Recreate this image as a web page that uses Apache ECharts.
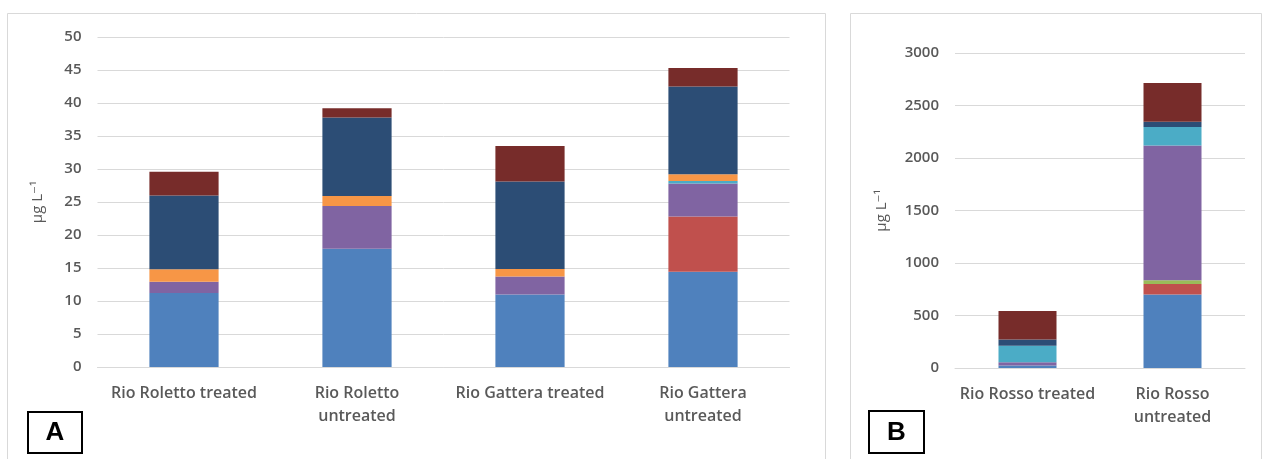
<!DOCTYPE html>
<html>
<head>
<meta charset="utf-8">
<style>
  html, body { margin: 0; padding: 0; background: #ffffff; }
  #chart { width: 1264px; height: 459px; }
</style>
<script src="https://cdn.jsdelivr.net/npm/echarts@6/dist/echarts.min.js"></script>
</head>
<body>
<div id="chart"></div>
<script>
// Panel A: the two streams of the Rio Roletto / Rio Gattera sites
const categoriesA = ['Rio Roletto treated', 'Rio Roletto untreated', 'Rio Gattera treated', 'Rio Gattera untreated'];
// Panel B: Rio Rosso
const categoriesB = ['Rio Rosso treated', 'Rio Rosso untreated'];

// Stacked components, bottom to top (µg L-1)
const layer1A = [11.2, 17.9, 11.0, 14.45];
const layer2A = [0, 0, 0, 8.35];
const layer3A = [0, 0, 0, 0];
const layer4A = [1.7, 6.5, 2.7, 5.0];
const layer5A = [0, 0, 0, 0.4];
const layer6A = [1.9, 1.5, 1.15, 1.0];
const layer7A = [11.2, 11.9, 13.25, 13.3];
const layer8A = [3.6, 1.4, 5.4, 2.8];

const layer1B = [25, 700];
const layer2B = [0, 100];
const layer3B = [0, 35];
const layer4B = [30, 1285];
const layer5B = [157, 175];
const layer6B = [0, 0];
const layer7B = [60, 50];
const layer8B = [270, 370];

const ticksA = { min: 0, max: 50, interval: 5 };
const ticksB = { min: 0, max: 3000, interval: 500 };

const axisTitle = 'μg L⁻¹';

const palette = ['#4f81bd', '#c0504d', '#9bbb59', '#8064a2', '#4bacc6', '#f79646', '#2c4d75', '#772c2a'];
const layersA = [layer1A, layer2A, layer3A, layer4A, layer5A, layer6A, layer7A, layer8A];
const layersB = [layer1B, layer2B, layer3B, layer4B, layer5B, layer6B, layer7B, layer8B];

const textColor = '#595959';
const gridColor = '#d9d9d9';
const fontFamily = '"Open Sans", "DejaVu Sans", sans-serif';

function yAxis(gridIndex, ticks, gap) {
  return {
    type: 'value', gridIndex: gridIndex,
    min: ticks.min, max: ticks.max, interval: ticks.interval,
    name: axisTitle, nameLocation: 'middle', nameGap: gap, nameRotate: 90,
    nameTextStyle: { color: textColor, fontSize: 15, fontFamily: fontFamily },
    axisLine: { show: false }, axisTick: { show: false },
    axisLabel: {
      color: textColor, fontSize: 15, fontWeight: 600, fontFamily: fontFamily, margin: 16,
      formatter: function (v) { return String(v); }
    },
    splitLine: { lineStyle: { color: gridColor, width: 1 } }
  };
}

function xAxis(gridIndex, cats) {
  return {
    type: 'category', gridIndex: gridIndex, data: cats,
    axisLine: { lineStyle: { color: gridColor, width: 1 } },
    axisTick: { show: false },
    axisLabel: {
      color: textColor, fontSize: 16, fontWeight: 600, fontFamily: fontFamily, margin: 15,
      lineHeight: 23, interval: 0,
      formatter: function (v) { return v.replace(' untreated', '\nuntreated'); }
    }
  };
}

const series = [];
layersA.forEach(function (vals, i) {
  series.push({
    type: 'bar', stack: 'A', xAxisIndex: 0, yAxisIndex: 0,
    barWidth: '40%', data: vals, itemStyle: { color: palette[i] }, silent: true
  });
});
layersB.forEach(function (vals, i) {
  series.push({
    type: 'bar', stack: 'B', xAxisIndex: 1, yAxisIndex: 1,
    barWidth: '40%', data: vals, itemStyle: { color: palette[i] }, silent: true
  });
});

const chart = echarts.init(document.getElementById('chart'), null, { renderer: 'canvas' });
chart.setOption({
  animation: false,
  backgroundColor: '#ffffff',
  grid: [
    { left: 97.5, top: 37, width: 692, height: 330 },
    { left: 955, top: 53, width: 290, height: 315 }
  ],
  xAxis: [xAxis(0, categoriesA), xAxis(1, categoriesB)],
  yAxis: [yAxis(0, ticksA, 52), yAxis(1, ticksB, 66)],
  series: series,
  graphic: [
    // panel frames
    { type: 'rect', shape: { x: 7.5, y: 13.5, width: 818, height: 460 }, style: { fill: 'none', stroke: gridColor, lineWidth: 1 }, z: -1 },
    { type: 'rect', shape: { x: 850.5, y: 13.5, width: 411, height: 460 }, style: { fill: 'none', stroke: gridColor, lineWidth: 1 }, z: -1 },
    // panel letters
    { type: 'rect', shape: { x: 28, y: 412, width: 54, height: 41 }, style: { fill: '#ffffff', stroke: '#000000', lineWidth: 2 } },
    { type: 'text', style: { text: 'A', x: 55, y: 433, align: 'center', verticalAlign: 'middle', font: 'bold 26px "Liberation Sans", Arial, sans-serif', fill: '#000000' } },
    { type: 'rect', shape: { x: 869, y: 411, width: 55, height: 42 }, style: { fill: '#ffffff', stroke: '#000000', lineWidth: 2 } },
    { type: 'text', style: { text: 'B', x: 896.5, y: 433, align: 'center', verticalAlign: 'middle', font: 'bold 26px "Liberation Sans", Arial, sans-serif', fill: '#000000' } }
  ]
});
</script>
</body>
</html>
